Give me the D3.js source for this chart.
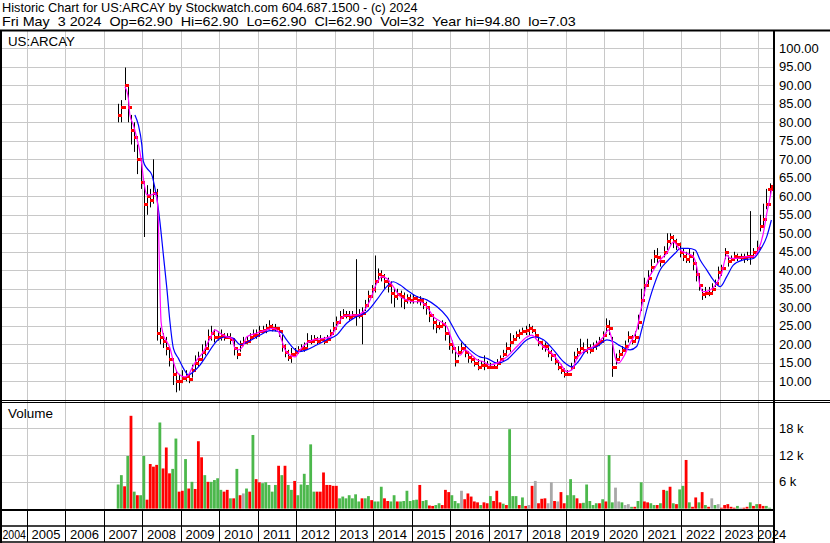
<!DOCTYPE html>
<html>
<head>
<meta charset="utf-8">
<script src="https://cdn.jsdelivr.net/npm/d3@7"></script>
<style>
  body { margin: 0; background: #fff; }
  svg { display: block; font-family: "Liberation Sans", Arial, sans-serif; }
</style>
</head>
<body>
<svg id="chart" width="830" height="543"></svg>
<script>
// monthly bars, first one is May 2007, last one is May 2024 (only the 3rd traded)
var firstYear = 2007, firstMonth = 5;

var closes = [
  82, 84, 90, 84, 78, 76, 70, 64,
  58, 60, 59, 61, 23, 22, 21, 19, 16, 12, 10, 10,
  11, 11.5, 10.5, 13, 15, 16, 18, 19, 22, 23, 22, 22,
  22.5, 22, 22, 21.5, 19, 17.5, 20, 20.5, 21, 22, 22.5, 22.5,
  23.5, 24, 24.5, 25, 24.5, 24.5, 23.5, 19.5, 18, 16.5, 17.5, 18,
  18.5, 19, 19, 21, 21, 21.5, 21, 21.5, 21, 21.5, 23, 24.5,
  26, 27.5, 28, 28, 27.5, 28, 28, 28, 28.5, 30.5, 33, 35,
  37, 39, 38.5, 37, 36, 34, 33, 33.5, 33, 32, 32.5, 32,
  32.5, 32, 32, 31, 30, 28, 26, 25, 25, 25.5, 23, 20,
  19, 15.5, 18, 19, 18, 16.5, 16, 15, 14, 14.5, 14.5, 14,
  14, 14, 15, 16, 17.5, 19, 20.5, 21.5, 22.5, 23, 23.5, 24,
  24.5, 24, 22.5, 20.5, 19.5, 19.5, 18, 17, 15.5, 14, 13, 12,
  12, 14, 16.5, 18, 19, 18.5, 19, 18.5, 19.5, 20, 21, 22.5,
  25, 24.5, 14, 16, 17.5, 18.5, 19.5, 22, 21, 22, 26, 32,
  36, 38, 41, 44, 43.5, 42.5, 45, 48, 49, 48, 47, 45,
  44, 43, 44, 42, 39, 36, 33.5, 34, 34, 35, 36.5, 39.5,
  40.5, 45, 42.5, 43, 44, 43.5, 43.5, 43.5, 44, 44, 45, 46,
  52, 54, 58, 62, 62.9
];
var highs = [
  85, 86, 94.8, 90, 82, 80, 74, 70,
  64, 63, 62, 70, 62, 24.5, 23, 22, 19, 16, 13, 12,
  13, 13, 12, 14.5, 17, 18, 20, 21, 24, 25, 24, 23.5,
  24, 23, 23, 23, 21, 19, 21, 22, 22, 23, 24, 24,
  25, 25, 25.5, 26.5, 25.5, 25.5, 24.5, 22.5, 20, 18.5, 19, 19,
  19.5, 20, 20.5, 23, 22.5, 22.5, 22, 22.5, 22, 22.5, 24, 26,
  27.5, 29, 29.5, 29, 29, 29, 43, 29.5, 30, 32, 34.5, 36,
  44, 40.5, 40, 39, 38, 37, 35, 35, 34.5, 34, 33.5, 33.5,
  33.5, 33, 33, 32.5, 31.5, 30, 28, 26.5, 26, 26.5, 26, 23,
  21, 18, 19.5, 20.5, 20, 18, 17, 16.5, 16, 15.5, 17, 15.5,
  15, 14.5, 16, 17, 18.5, 20.5, 23, 22.5, 23.5, 24, 24.5, 25,
  25.5, 25, 24, 22, 21, 20.5, 19.5, 18.5, 17, 15.5, 14.5, 13.5,
  13, 15, 18, 19, 21.5, 20.5, 21.5, 20, 20.5, 21, 22, 23.5,
  27, 26.5, 22, 17.5, 18.5, 19.5, 21, 23.5, 22.5, 23.5, 28, 35,
  38, 40, 43, 45.5, 46, 44, 46.5, 50, 50, 49.5, 48.5, 47.5,
  46, 45, 46, 45, 42, 39, 35, 35.5, 35.5, 36.5, 37.5, 41,
  41.5, 46, 44, 44, 45, 44.5, 44.5, 44.5, 45, 56, 46, 48,
  55, 58, 62, 63.5, 62.9
];
var lows = [
  80, 80, 86, 80, 74, 72, 66, 62,
  49, 55, 57, 58, 21, 20, 19, 17, 14, 9, 7.03, 7.5,
  9.5, 10, 9.5, 11, 13, 14, 16, 17, 19, 21, 20.5, 21,
  21, 21, 21.5, 20, 17, 16, 18, 19.5, 20, 21, 21.5, 21.5,
  22.5, 23, 23, 24, 23.5, 23.5, 22, 18, 16.5, 15.5, 15, 17,
  17.5, 18, 18, 19, 20, 20.5, 20, 20.5, 20, 20.5, 22, 23,
  25, 26, 27, 27, 26.5, 27, 25, 27, 20, 29, 31, 33,
  34, 37, 37, 35, 34, 31, 30, 32, 30, 29.5, 31, 31,
  31, 31, 30.5, 29.5, 28, 26, 24, 23, 24, 24.5, 21, 18.5,
  17.5, 14, 16.5, 17.5, 16.5, 15, 15, 14, 13, 13.5, 13, 13.5,
  13.5, 13.5, 14, 15, 16.5, 17.5, 18, 20.5, 21.5, 21.5, 22.5, 22.5,
  22.5, 23, 21.5, 19.5, 18.5, 18, 16.5, 15.5, 14.5, 13, 12, 11,
  11.5, 13, 15, 16, 17.5, 17.5, 17.5, 17.5, 18, 18.5, 19.5, 21,
  23, 22.5, 11.2, 14.5, 15.5, 17, 18, 20.5, 20, 21, 24, 29,
  33, 36, 39, 42, 42, 41, 43.5, 45.5, 47, 46, 45.5, 43.5,
  42.5, 42, 42, 40, 37, 34.5, 32, 32.5, 33, 33.5, 35.5, 37.5,
  38.5, 43, 41, 42, 42.5, 42.5, 42.5, 42, 42.5, 41.5, 43.5, 44.5,
  50.5, 52, 56.5, 60.5, 62.9
];
// volume in thousands of shares
var volumes = [
  5.4, 7.5, 5, 11.8, 20.8, 3.8, 3, 3,
  11.8, 2, 10, 9.4, 9.8, 19.3, 9, 13.7, 7.9, 8.9, 15.7, 3.8,
  4, 11.1, 4.5, 6, 4.4, 15.1, 11.5, 7.5, 6, 6, 6.4, 6.8,
  4.2, 3.8, 4.2, 2.3, 2.3, 8.9, 3, 3.4, 4.5, 3.8, 16.5, 6.6,
  5.9, 5.7, 5.9, 5.3, 3.8, 5.3, 9.6, 7.5, 9.6, 5.3, 4.2, 6.2,
  3, 5.4, 7.8, 5.3, 14.4, 3.8, 3.8, 3.8, 8.1, 5.3, 5.3, 5.1,
  5.1, 2.3, 2.7, 2.3, 3, 2.3, 3.2, 1.6, 2.3, 2.3, 2.8, 1.9,
  1.6, 1.6, 4.9, 2.3, 1.7, 1.6, 3, 1.6, 1.6, 1.7, 4, 1.7,
  1.9, 2, 5.3, 1.7, 1.9, 0.7, 0.6, 0.8, 1.2, 0.8, 4.2, 3.7,
  3, 1.7, 1.2, 4, 2.1, 3.4, 2.7, 1.6, 1.4, 0.8, 1.4, 1.2,
  2.8, 1.7, 4, 1.4, 1.1, 0.8, 17.8, 2.8, 2.8, 0.8, 2.5, 0.6,
  0.8, 5.1, 6.2, 1.2, 2.2, 2.3, 1.2, 5.9, 1.7, 1.6, 3.7, 1.2,
  3, 6.6, 3, 2.3, 1.2, 1.3, 5.4, 1.7, 0.8, 1.2, 1.2, 2.1,
  1.6, 12, 1.4, 4.7, 1.6, 1.4, 0.8, 1, 0.4, 0.4, 1.7, 5.9,
  1.6, 1.4, 1.2, 0.8, 0.8, 1.2, 4.2, 4, 4.9, 1.2, 1, 4.3,
  5.1, 10.9, 1.4, 0.4, 2.5, 1.4, 3.7, 0.8, 0.4, 2.3, 0.8, 1,
  0.2, 0.8, 1, 0.4, 0.2, 0.6, 0.2, 0.2, 0.4, 1.4, 0.6, 1,
  1, 0.6, 0.6, 0.2, 0.03
];
// u = up (green), d = down (red), f = unchanged (grey), one letter per month
var volDir = [
  "uududud" + "u",
  "udddduddduud",
  "dududdduduuu",
  "uddududfudud",
  "duuuuududuud",
  "uuuuuudddddd",
  "duuuuuuuduud",
  "uuudduuduuuu",
  "uuduudduuddd",
  "uuufdddddudd",
  "uddduduuudud",
  "fdfdddffdfdd",
  "uuudduuuuudu",
  "duuffuffuduu",
  "dduududududu",
  "ududdududfuf",
  "dddddufddudu",
  "dduuf"
].join("").split("");

// short (magenta) and long (blue) moving averages
var maShortYears = [2007.55, 2007.64, 2007.68, 2007.77, 2007.86, 2007.94, 2007.99, 2008.03, 2008.07, 2008.12,
  2008.25, 2008.33, 2008.38, 2008.42, 2008.44, 2008.46, 2008.49, 2008.55, 2008.64, 2008.72,
  2008.81, 2008.9, 2008.98, 2009.11, 2009.2, 2009.29, 2009.42, 2009.59, 2009.76, 2009.89,
  2010.02, 2010.2, 2010.33, 2010.41, 2010.5, 2010.63, 2010.71, 2010.97, 2011.23, 2011.41,
  2011.54, 2011.62, 2011.71, 2011.84, 2011.97, 2012.1, 2012.27, 2012.44, 2012.7, 2012.88,
  2013.05, 2013.22, 2013.4, 2013.57, 2013.74, 2013.92, 2014.09, 2014.22, 2014.35, 2014.52,
  2014.7, 2014.87, 2015.04, 2015.22, 2015.39, 2015.56, 2015.74, 2015.91, 2016.04, 2016.17,
  2016.26, 2016.38, 2016.51, 2016.69, 2016.86, 2017.03, 2017.21, 2017.47, 2017.73, 2017.99,
  2018.12, 2018.25, 2018.42, 2018.68, 2018.85, 2019.03, 2019.16, 2019.29, 2019.46, 2019.72,
  2019.98, 2020.11, 2020.2, 2020.28, 2020.37, 2020.5, 2020.67, 2020.84, 2020.97, 2021.1,
  2021.28, 2021.45, 2021.62, 2021.8, 2021.97, 2022.14, 2022.31, 2022.4, 2022.49, 2022.57,
  2022.75, 2022.92, 2023.05, 2023.18, 2023.27, 2023.44, 2023.7, 2023.87, 2024.0, 2024.13,
  2024.22, 2024.31, 2024.34];
var maShortVals = [89.6, 86.5, 82, 79.3, 75.7, 72, 68.5, 64.9, 62.2, 60.4,
  60.4, 60.8, 59.5, 53.1, 44.1, 35.1, 26.1, 22.5, 20.7, 19,
  15.3, 12.6, 11.7, 11.2, 11.7, 13.5, 15.8, 18, 21.6, 23.9,
  23, 22, 21.6, 18.9, 18.5, 19.8, 22, 23, 23.9, 24.3,
  23.4, 21.2, 18.5, 17.1, 16.6, 18.5, 20.3, 21.2, 21.6, 22,
  24.8, 27.5, 27.9, 27.9, 28.8, 32, 36.5, 38.3, 37.8, 35.6,
  32.9, 32, 31.5, 31.5, 30.2, 27.5, 26.2, 24.8, 21.2, 17.6,
  17.1, 18.5, 17.6, 15.8, 15.3, 14.4, 14.9, 16.6, 19.4, 22,
  22.5, 21.2, 19.4, 17.1, 14.9, 12.6, 13.1, 16.2, 18, 19.4,
  22, 23.9, 21.2, 16.6, 14.9, 16.6, 20.3, 23.9, 30.2, 36.5,
  40.1, 42.8, 44.6, 47.7, 45.5, 44.6, 43.7, 41, 35.6, 34.2,
  34.7, 36.5, 39.2, 44.1, 43.2, 43.2, 43.7, 43.7, 45.5, 50,
  55.4, 59.9, 61.7];
var maLongYears = [2007.81, 2007.9, 2007.99, 2008.03, 2008.12, 2008.25, 2008.33, 2008.38, 2008.46, 2008.55,
  2008.64, 2008.72, 2008.81, 2008.94, 2009.07, 2009.2, 2009.33, 2009.5, 2009.68, 2009.85,
  2010.02, 2010.2, 2010.37, 2010.54, 2010.8, 2011.06, 2011.32, 2011.58, 2011.75, 2011.93,
  2012.06, 2012.27, 2012.53, 2012.79, 2013.05, 2013.31, 2013.57, 2013.83, 2014.09, 2014.35,
  2014.52, 2014.7, 2014.87, 2015.13, 2015.39, 2015.65, 2015.91, 2016.26, 2016.51, 2016.77,
  2016.95, 2017.21, 2017.47, 2017.73, 2017.99, 2018.2, 2018.42, 2018.68, 2018.94, 2019.16,
  2019.29, 2019.55, 2019.81, 2020.07, 2020.24, 2020.41, 2020.67, 2020.84, 2020.97, 2021.1,
  2021.28, 2021.45, 2021.62, 2021.84, 2021.97, 2022.18, 2022.36, 2022.49, 2022.66, 2022.83,
  2023.01, 2023.18, 2023.35, 2023.61, 2023.87, 2024.05, 2024.22, 2024.34];
var maLongVals = [82, 79.3, 73.9, 69.4, 67.6, 65.8, 62.2, 59.5, 53.1, 44.1,
  35.1, 26.1, 18.9, 16.2, 13.5, 11.7, 12.6, 14.4, 17.1, 19.8,
  21.6, 22, 21.6, 19.9, 21, 22.5, 23.7, 23.4, 21.2, 18.9,
  18, 18.5, 19.8, 21.2, 22.5, 25.7, 27.5, 28.8, 32, 35.6,
  36.9, 36, 34.7, 32.9, 32, 30.2, 27.5, 21.2, 18.5, 16.6,
  16.2, 14.9, 15.8, 18.5, 21.2, 22, 21.2, 18.5, 15.3, 13.9,
  14.9, 18.5, 19.4, 21.2, 20.7, 19.6, 18.5, 19.4, 23.9, 29.3,
  35.6, 40.1, 42.3, 44.6, 45.9, 45.9, 45.5, 42.8, 40.1, 37.4,
  35.6, 38.3, 41.4, 42.8, 43.2, 45.5, 49.1, 53.6];

var priceTicks = d3.range(10, 101, 5);
var volumeTicks = [6000, 12000, 18000];
var yearLabels = d3.range(2004, 2025);

var svg = d3.select("#chart");
var plotRight = 773;

var x = d3.scaleLinear().domain([2005, 2024]).range([26.7, 758.3]);
var y = d3.scaleLinear().domain([5, 105]).range([399.8, 29.8]);
var yv = d3.scaleLinear().domain([0, 18000]).range([508.6, 428.3]);

var months = closes.map(function(c, i) {
  var yr = firstYear + (firstMonth - 1 + i + 0.5) / 12;
  if (i == closes.length - 1) yr = 2024 + (4 + 3 / 31) / 12;
  return yr;
});

svg.append("rect").attr("width", 830).attr("height", 543).attr("fill", "#fff");

svg.append("defs").append("clipPath").attr("id", "plotclip")
  .append("rect").attr("x", 0).attr("y", 31).attr("width", plotRight).attr("height", 480);

var grid = svg.append("g").attr("stroke", "#c8c8c8").attr("stroke-width", 1);
// price grid
grid.selectAll(".hp").data(priceTicks).enter().append("line")
  .attr("x1", 0).attr("x2", plotRight)
  .attr("y1", function(d) { return Math.round(y(d)) + 0.5; })
  .attr("y2", function(d) { return Math.round(y(d)) + 0.5; });
// volume grid
grid.selectAll(".hv").data(volumeTicks).enter().append("line")
  .attr("x1", 0).attr("x2", plotRight)
  .attr("y1", function(d) { return Math.round(yv(d)) + 0.5; })
  .attr("y2", function(d) { return Math.round(yv(d)) + 0.5; });
// year grid in both panels
grid.selectAll(".vy").data(d3.range(2005, 2025)).enter().append("line")
  .attr("x1", function(d) { return Math.round(x(d)) + 0.5; })
  .attr("x2", function(d) { return Math.round(x(d)) + 0.5; })
  .attr("y1", 31).attr("y2", 510);

// volume bars
var vol = svg.append("g").attr("clip-path", "url(#plotclip)");
var volColor = { u: "#4cb84c", d: "#ff0000", f: "#a8a8a8" };
vol.selectAll("rect").data(volumes).enter().append("rect")
  .attr("x", function(d, i) { return x(months[i]) - 1.4; })
  .attr("width", 2.8)
  .attr("y", function(d) { return yv(d * 1000); })
  .attr("height", function(d) { return yv(0) - yv(d * 1000); })
  .attr("fill", function(d, i) { return volColor[volDir[i]] || "#ff0000"; });

// price bars
var price = svg.append("g").attr("clip-path", "url(#plotclip)");
price.selectAll(".hl").data(closes).enter().append("line")
  .attr("x1", function(d, i) { return Math.round(x(months[i])) + 0.5; })
  .attr("x2", function(d, i) { return Math.round(x(months[i])) + 0.5; })
  .attr("y1", function(d, i) { return y(highs[i]); })
  .attr("y2", function(d, i) { return y(lows[i]); })
  .attr("stroke", "#000").attr("stroke-width", 1);
// open tick (previous close) and close tick in red
price.selectAll(".op").data(closes.slice(1)).enter().append("rect")
  .attr("x", function(d, i) { return Math.round(x(months[i + 1])) - 3; })
  .attr("y", function(d, i) { return Math.round(y(closes[i])) - 1; })
  .attr("width", 4).attr("height", 3).attr("fill", "#ff0000");
price.selectAll(".cl").data(closes).enter().append("rect")
  .attr("x", function(d, i) { return Math.round(x(months[i])); })
  .attr("y", function(d) { return Math.round(y(d)) - 1; })
  .attr("width", 4).attr("height", 3).attr("fill", "#ff0000");

var line = d3.line().curve(d3.curveMonotoneX);
price.append("path")
  .attr("d", line(maLongYears.map(function(t, i) { return [x(t), y(maLongVals[i])]; })))
  .attr("fill", "none").attr("stroke", "#0000ff").attr("stroke-width", 1.2);
price.append("path")
  .attr("d", line(maShortYears.map(function(t, i) { return [x(t), y(maShortVals[i])]; })))
  .attr("fill", "none").attr("stroke", "#ff00ff").attr("stroke-width", 1.2);

// frame
var frame = svg.append("g").attr("stroke", "#000");
frame.append("line").attr("x1", 0).attr("x2", 830).attr("y1", 30.5).attr("y2", 30.5).attr("stroke-width", 2);
frame.append("line").attr("x1", 0).attr("x2", 830).attr("y1", 400.5).attr("y2", 400.5).attr("stroke-width", 1);
frame.append("line").attr("x1", 0).attr("x2", 830).attr("y1", 402.5).attr("y2", 402.5).attr("stroke-width", 1);
frame.append("line").attr("x1", 0).attr("x2", plotRight).attr("y1", 510).attr("y2", 510).attr("stroke-width", 2);
frame.append("line").attr("x1", 0).attr("x2", plotRight).attr("y1", 526).attr("y2", 526).attr("stroke-width", 1.5);
frame.append("line").attr("x1", 0).attr("x2", plotRight).attr("y1", 542).attr("y2", 542).attr("stroke-width", 1.5);
frame.append("line").attr("x1", 1).attr("x2", 1).attr("y1", 30).attr("y2", 543).attr("stroke-width", 2);
frame.append("line").attr("x1", 774).attr("x2", 774).attr("y1", 30).attr("y2", 543).attr("stroke-width", 2);
frame.selectAll(".yt").data(d3.range(2005, 2025)).enter().append("line")
  .attr("x1", function(d) { return Math.round(x(d)) + 0.5; })
  .attr("x2", function(d) { return Math.round(x(d)) + 0.5; })
  .attr("y1", 510).attr("y2", 542).attr("stroke-width", 1);

// texts
var txt = svg.append("g").attr("font-size", "13px").attr("fill", "#000");

// match a text to the width it has in the original by scaling it sideways
function fitWidth(px, py, s, w, pre) {
  var t = txt.append("text").attr("x", 0).attr("y", 0).text(s);
  if (pre) t.style("white-space", "pre");
  var len = t.node().getComputedTextLength();
  var k = len > 0 ? w / len : 1;
  t.attr("transform", "translate(" + px + "," + py + ") scale(" + k.toFixed(4) + ",1)");
  return t;
}

fitWidth(2, 11.5, "Historic Chart for US:ARCAY by Stockwatch.com 604.687.1500 - (c) 2024", 416);
fitWidth(2, 25.5, "Fri May  3 2024  Op=62.90  Hi=62.90  Lo=62.90  Cl=62.90  Vol=32  Year hi=94.80  lo=7.03", 574, true);
fitWidth(8, 46, "US:ARCAY", 67);
fitWidth(8, 418, "Volume", 45);

txt.selectAll(".pl").data(priceTicks).enter().append("text")
  .attr("x", 779).attr("y", function(d) { return y(d) + 4.5; })
  .text(function(d) { return d3.format(".2f")(d); });
txt.selectAll(".vl").data(volumeTicks).enter().append("text")
  .attr("x", 779).attr("y", function(d) { return yv(d) + 4.5; })
  .text(function(d) { return (d / 1000) + " k"; });

txt.selectAll(".yl").data(yearLabels).enter().append("text")
  .attr("x", function(d) {
    if (d == 2004) return 2.5;
    if (d == 2024) return x(d) - 1;
    return (x(d) + x(d + 1)) / 2;
  })
  .attr("text-anchor", function(d) { return d == 2004 || d == 2024 ? "start" : "middle"; })
  .attr("textLength", function(d) { return d == 2004 ? 23.5 : null; })
  .attr("lengthAdjust", "spacingAndGlyphs")
  .attr("y", 539)
  .text(function(d) { return d; });
</script>
</body>
</html>
